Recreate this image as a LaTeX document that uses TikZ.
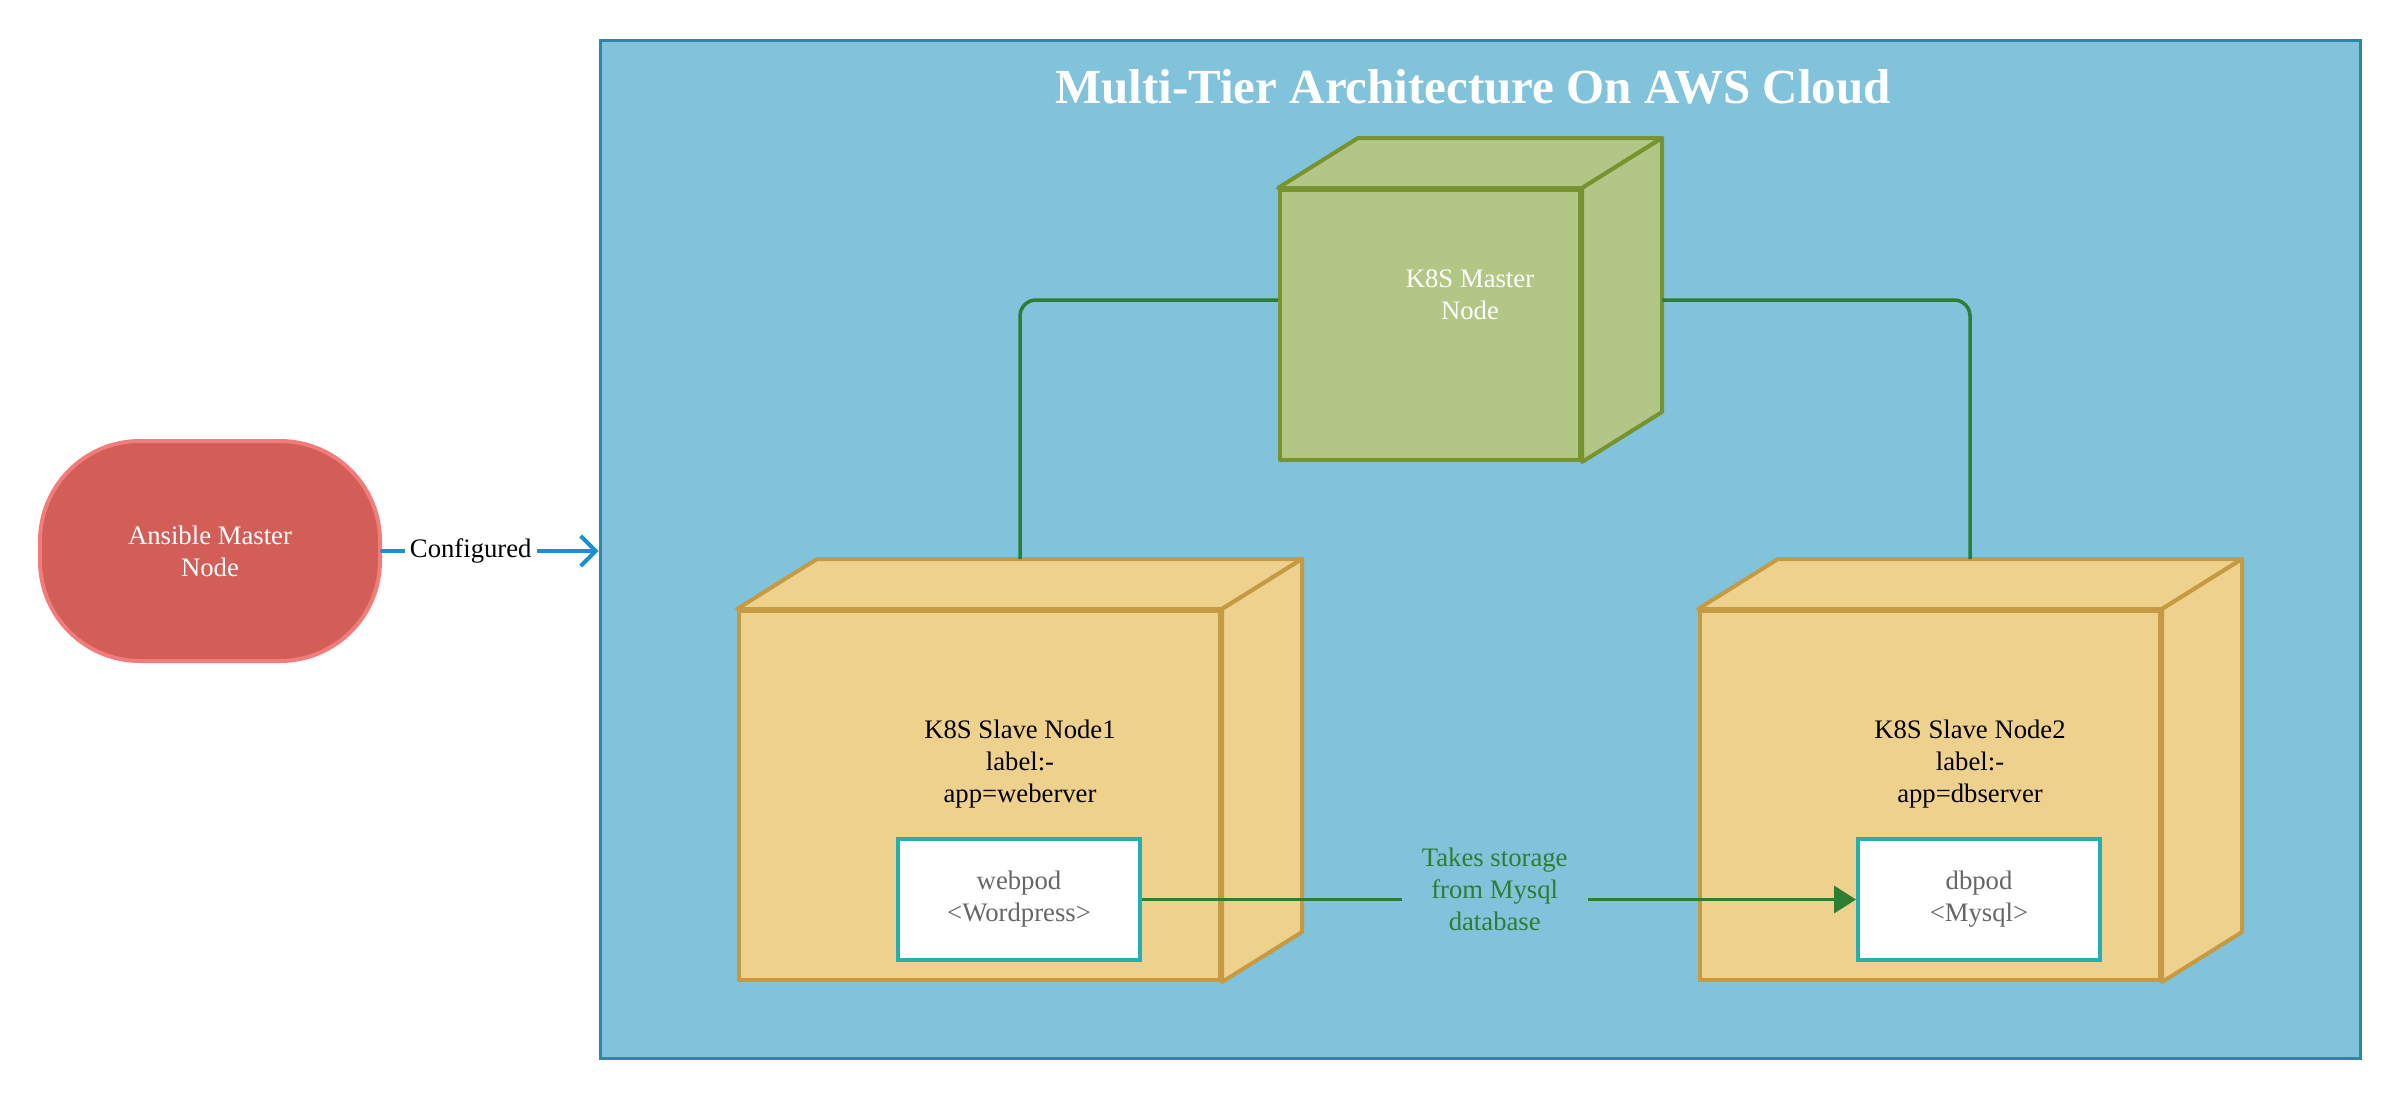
\documentclass[tikz,border=0pt]{standalone}
\usepackage{fontspec}
\setmainfont{Liberation Serif}
\usetikzlibrary{arrows.meta,calc}
\definecolor{awsfill}{HTML}{82C3DC}
\definecolor{awsborder}{HTML}{2E86AB}
\definecolor{ansfill}{HTML}{D35E58}
\definecolor{ansborder}{HTML}{F27B7B}
\definecolor{mfill}{HTML}{B2C686}
\definecolor{mborder}{HTML}{769330}
\definecolor{sfill}{HTML}{EFD18E}
\definecolor{sborder}{HTML}{C49A42}
\definecolor{podborder}{HTML}{26AFAF}
\definecolor{podtext}{HTML}{666666}
\definecolor{conngreen}{HTML}{2E7D32}
\definecolor{connblue}{HTML}{1A90D0}
\newcommand\mycubefaces[2]{%
  \draw[#2] (#1.north west) -- ++(80,-50) -- ($(#1.north east)+(80,-50)$) -- (#1.north east) -- cycle;
  \draw[#2] (#1.north east) -- ++(80,-50) -- ($(#1.south east)+(80,-50)$) -- (#1.south east) -- cycle;
}
\begin{document}
\begin{tikzpicture}[x=1pt,y=-1pt,
  txt/.style={font=\fontsize{26.7}{32}\selectfont, align=center, inner sep=0pt},
  awsbox/.style={draw=awsborder, fill=awsfill, line width=3pt},
  ansshape/.style={draw=ansborder, fill=ansfill, line width=4pt, rounded corners=100pt, txt, text=white},
  masterface/.style={draw=mborder, fill=mfill, line width=4pt, line join=round},
  slaveface/.style={draw=sborder, fill=sfill, line width=4pt, line join=round},
  podbox/.style={draw=podborder, fill=white, line width=4pt, txt, text=podtext},
  greenconn/.style={draw=conngreen, line width=3.5pt},
  blueconn/.style={draw=connblue, line width=4pt, line cap=round}
]
\useasboundingbox (0,0) rectangle (2400,1100);
% outer cloud box
\node[awsbox, minimum width=1760pt, minimum height=1018pt] (aws) at (1480,549) {};
\node[txt, font=\fontsize{49}{58}\selectfont\bfseries, text=white, anchor=base] (title) at (1473,103) {Multi-Tier Architecture On AWS Cloud};
% ansible
\node[ansshape, minimum width=340pt, minimum height=220pt] (ans) at (210,551) {Ansible Master\\Node};
% master cube
\node[masterface, minimum width=300pt, minimum height=270pt] (master) at (1430,325) {};
\mycubefaces{master}{masterface}
\node[txt, text=white] (mastertxt) at (1470,295) {K8S Master\\Node};
% slave 1
\node[slaveface, minimum width=481pt, minimum height=369pt] (s1) at (979.5,795.5) {};
\mycubefaces{s1}{slaveface}
\node[txt, text=black] (s1txt) at (1020,764) {K8S Slave Node1\\label:-\\app=weberver};
% slave 2
\node[slaveface, minimum width=460pt, minimum height=369pt] (s2) at (1930,795.5) {};
\mycubefaces{s2}{slaveface}
\node[txt, text=black] (s2txt) at (1970,764) {K8S Slave Node2\\label:-\\app=dbserver};
% pods
\node[podbox, minimum width=242pt, minimum height=121pt] (webpod) at (1019,899.5) {webpod\\<Wordpress>};
\node[podbox, minimum width=242pt, minimum height=121pt] (dbpod) at (1979,899.5) {dbpod\\<Mysql>};
% connectors master -> slaves
\coordinate (mL) at ([yshift=25pt]master.west);
\coordinate (mR) at ([xshift=80pt,yshift=25pt]master.east);
\coordinate (s1top) at ([xshift=40.5pt,yshift=50pt]s1.north);
\coordinate (s2top) at ([xshift=40pt,yshift=50pt]s2.north);
\draw[greenconn, rounded corners=16pt] (mL) -| (s1top);
\draw[greenconn, rounded corners=16pt] (mR) -| (s2top);
% storage arrow
\draw[greenconn, -{Triangle[length=22pt,width=27pt]}] (webpod.east) -- (dbpod.west)
  node[pos=0.494, yshift=10pt, txt, fill=awsfill, text=conngreen, inner xsep=20pt, inner ysep=2pt] (storlbl) {Takes storage\\from Mysql\\database};
% configured arrow
\draw[blueconn, -{Straight Barb[length=15pt,width=30pt]}] (ans.east) -- (ans.east -| aws.west)
  node[pos=0.41, txt, fill=white, text=black, inner xsep=5pt, inner ysep=2pt] (conflbl) {Configured};
\end{tikzpicture}
\end{document}
